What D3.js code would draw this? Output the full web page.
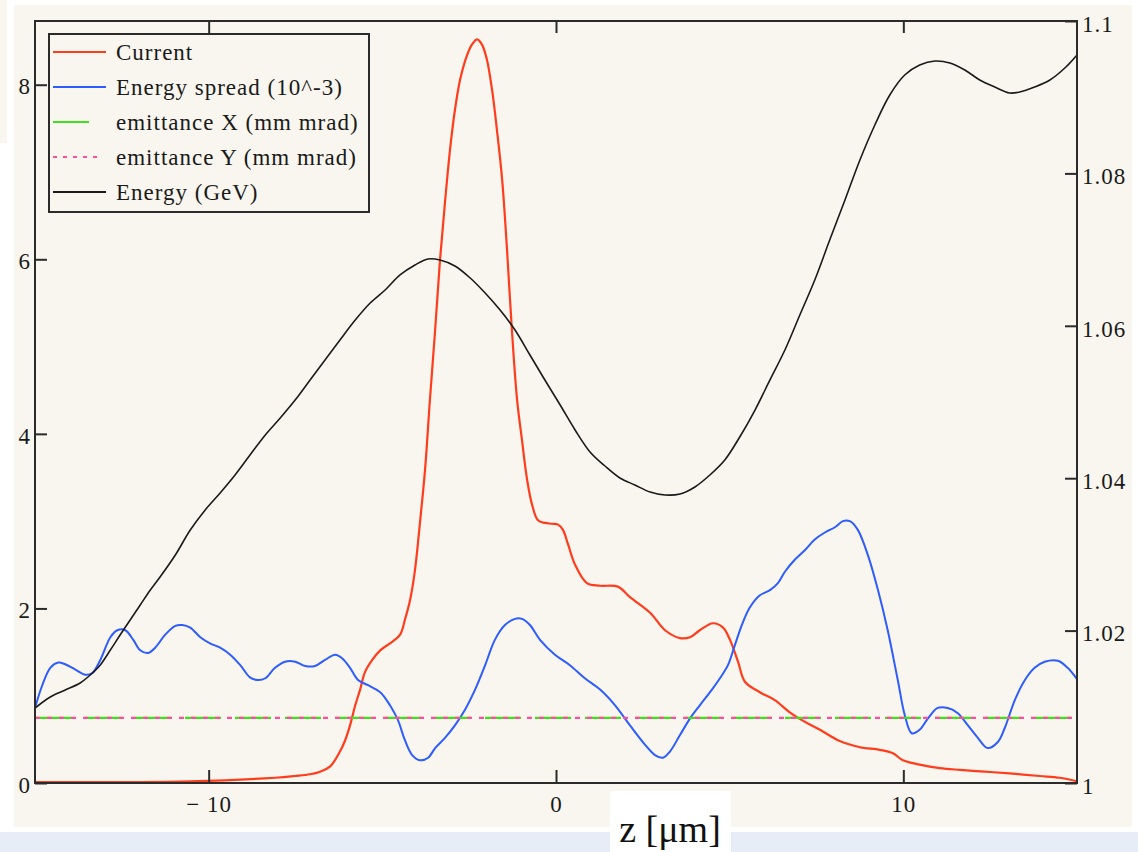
<!DOCTYPE html>
<html>
<head>
<meta charset="utf-8">
<style>
  body { margin: 0; background: #fff; }
  svg { font-family: "Liberation Serif", "DejaVu Serif", serif; }
</style>
</head>
<body>
<script src="https://d3js.org/d3.v7.min.js"></script>
<div id="chart"></div>
<script>
// z positions (um) and values
var currentZ = [-15.0, -10.53, -8.09, -7.51, -7.08, -6.79, -6.50, -6.22, -6.07, -5.93, -5.78, -5.64, -5.50, -5.29, -5.06, -4.78, -4.49, -4.35, -4.20, -4.06, -3.91, -3.77, -3.63, -3.48, -3.34, -3.19, -3.05, -2.91, -2.76, -2.56, -2.42, -2.27, -2.13, -1.99, -1.84, -1.70, -1.55, -1.41, -1.27, -1.12, -0.98, -0.83, -0.69, -0.52, -0.32, -0.12, 0.06, 0.20, 0.35, 0.55, 0.89, 1.27, 1.78, 2.13, 2.71, 3.14, 3.57, 3.86, 4.14, 4.52, 4.81, 5.01, 5.24, 5.44, 5.87, 6.30, 6.73, 7.17, 7.60, 8.17, 8.75, 9.32, 9.70, 9.99, 10.47, 11.05, 11.63, 12.35, 13.06, 13.93, 14.50, 15.0];
var current = [0.01, 0.02, 0.06, 0.08, 0.10, 0.13, 0.19, 0.36, 0.49, 0.66, 0.89, 1.07, 1.27, 1.41, 1.52, 1.60, 1.70, 1.87, 2.10, 2.44, 3.01, 3.59, 4.39, 5.19, 5.99, 6.68, 7.26, 7.71, 8.06, 8.34, 8.46, 8.52, 8.46, 8.29, 7.94, 7.48, 6.91, 6.11, 5.19, 4.39, 3.93, 3.47, 3.19, 3.01, 2.98, 2.97, 2.96, 2.90, 2.73, 2.50, 2.29, 2.26, 2.25, 2.13, 1.95, 1.75, 1.66, 1.67, 1.75, 1.83, 1.78, 1.64, 1.39, 1.16, 1.04, 0.95, 0.81, 0.70, 0.61, 0.48, 0.41, 0.38, 0.34, 0.26, 0.21, 0.17, 0.15, 0.13, 0.11, 0.08, 0.06, 0.02];

var spreadZ = [-15.0, -14.79, -14.56, -14.33, -14.13, -13.84, -13.55, -13.35, -13.12, -12.83, -12.63, -12.40, -12.17, -11.97, -11.74, -11.54, -11.25, -10.96, -10.76, -10.53, -10.24, -9.96, -9.67, -9.38, -9.09, -8.81, -8.58, -8.37, -8.09, -7.80, -7.51, -7.22, -6.94, -6.65, -6.36, -6.16, -5.93, -5.70, -5.41, -5.06, -4.78, -4.55, -4.35, -4.14, -3.91, -3.68, -3.48, -3.19, -2.91, -2.62, -2.33, -2.04, -1.76, -1.47, -1.18, -0.98, -0.75, -0.46, -0.03, 0.40, 0.83, 1.27, 1.70, 2.13, 2.56, 2.85, 3.08, 3.28, 3.57, 3.86, 4.14, 4.49, 4.72, 4.95, 5.15, 5.35, 5.58, 5.87, 6.16, 6.39, 6.59, 6.88, 7.17, 7.45, 7.74, 8.03, 8.26, 8.46, 8.69, 8.98, 9.27, 9.55, 9.84, 10.04, 10.24, 10.47, 10.71, 10.99, 11.28, 11.57, 11.86, 12.14, 12.43, 12.72, 12.92, 13.21, 13.50, 13.78, 14.07, 14.45, 14.73, 15.0];
var spread = [0.86, 1.12, 1.32, 1.38, 1.36, 1.30, 1.24, 1.26, 1.41, 1.67, 1.75, 1.75, 1.64, 1.52, 1.49, 1.55, 1.70, 1.80, 1.81, 1.78, 1.67, 1.60, 1.55, 1.47, 1.35, 1.21, 1.18, 1.20, 1.32, 1.39, 1.39, 1.34, 1.34, 1.41, 1.47, 1.43, 1.32, 1.18, 1.12, 1.04, 0.89, 0.72, 0.49, 0.32, 0.26, 0.29, 0.40, 0.52, 0.66, 0.84, 1.07, 1.35, 1.64, 1.81, 1.88, 1.88, 1.81, 1.64, 1.47, 1.35, 1.20, 1.07, 0.89, 0.66, 0.44, 0.32, 0.29, 0.36, 0.55, 0.74, 0.89, 1.07, 1.20, 1.35, 1.58, 1.81, 2.01, 2.15, 2.21, 2.29, 2.42, 2.56, 2.67, 2.79, 2.87, 2.93, 3.00, 3.00, 2.90, 2.61, 2.21, 1.75, 1.18, 0.78, 0.57, 0.61, 0.74, 0.86, 0.86, 0.80, 0.66, 0.52, 0.40, 0.47, 0.63, 0.95, 1.18, 1.32, 1.39, 1.40, 1.32, 1.19];

var emitZ = [-15, 15];
var emitX = [0.745, 0.745];
var emitY = [0.745, 0.745];

var energyZ = [-15.0, -14.56, -14.13, -13.70, -13.41, -13.12, -12.83, -12.55, -12.26, -11.97, -11.68, -11.40, -10.96, -10.53, -10.10, -9.67, -9.24, -8.81, -8.37, -7.94, -7.51, -7.08, -6.65, -6.22, -5.78, -5.35, -4.92, -4.49, -4.06, -3.68, -3.34, -2.91, -2.47, -2.04, -1.61, -1.18, -0.75, -0.32, 0.12, 0.55, 0.98, 1.41, 1.84, 2.27, 2.71, 3.14, 3.57, 4.00, 4.43, 4.86, 5.29, 5.73, 6.16, 6.59, 7.02, 7.45, 7.88, 8.32, 8.75, 9.18, 9.61, 10.04, 10.47, 10.91, 11.34, 11.77, 12.20, 12.63, 13.06, 13.35, 13.78, 14.22, 14.65, 15.0];
var energy = [1.00984, 1.01129, 1.01220, 1.01312, 1.01417, 1.01549, 1.01745, 1.01942, 1.02139, 1.02336, 1.02533, 1.02703, 1.02992, 1.03320, 1.03583, 1.03806, 1.04042, 1.04304, 1.04567, 1.04790, 1.05026, 1.05289, 1.05551, 1.05814, 1.06076, 1.06299, 1.06470, 1.06667, 1.06798, 1.06877, 1.06864, 1.06785, 1.06627, 1.06430, 1.06207, 1.05945, 1.05617, 1.05289, 1.04961, 1.04633, 1.04344, 1.04160, 1.04003, 1.03911, 1.03819, 1.03780, 1.03793, 1.03885, 1.04042, 1.04239, 1.04541, 1.04895, 1.05289, 1.05682, 1.06142, 1.06601, 1.07126, 1.07651, 1.08176, 1.08635, 1.09029, 1.09291, 1.09423, 1.09475, 1.09449, 1.09357, 1.09226, 1.09134, 1.09055, 1.09068, 1.09134, 1.09226, 1.09383, 1.09554];

var xTicks = [-10, 0, 10];
var leftTicks = [0, 2, 4, 6, 8];
var rightTicks = [1, 1.02, 1.04, 1.06, 1.08, 1.1];

var legendNames = ["Current", "Energy spread (10^-3)", "emittance X (mm mrad)", "emittance Y (mm mrad)", "Energy (GeV)"];

var width = 1138, height = 852;
var plot = {left: 35, top: 21, right: 1077, bottom: 783};

var svg = d3.select("#chart").append("svg")
    .attr("width", width)
    .attr("height", height);

// page background pieces
svg.append("rect").attr("x", 0).attr("y", 0).attr("width", 7).attr("height", 143).attr("fill", "#f9f6ef");
svg.append("rect").attr("x", 14).attr("y", 5).attr("width", 1118).attr("height", 822).attr("fill", "#f9f6ef");
svg.append("rect").attr("x", 0).attr("y", 832).attr("width", width).attr("height", 20).attr("fill", "#e6edf7");

var x = d3.scaleLinear().domain([-15, 15]).range([plot.left, plot.right]);
var yL = d3.scaleLinear().domain([0, 8.73]).range([plot.bottom, plot.top]);
var yR = d3.scaleLinear().domain([1, 1.1]).range([plot.bottom, plot.top]);

svg.append("clipPath").attr("id", "clip")
  .append("rect")
    .attr("x", plot.left).attr("y", plot.top)
    .attr("width", plot.right - plot.left).attr("height", plot.bottom - plot.top);

var g = svg.append("g").attr("clip-path", "url(#clip)");

function pairs(zs, vs) { return zs.map(function(z, i) { return [z, vs[i]]; }); }

var lineL = d3.line().x(function(d) { return x(d[0]); }).y(function(d) { return yL(d[1]); }).curve(d3.curveCatmullRom);
var lineR = d3.line().x(function(d) { return x(d[0]); }).y(function(d) { return yR(d[1]); }).curve(d3.curveCatmullRom);

g.append("path").datum(pairs(currentZ, current)).attr("d", lineL)
  .attr("fill", "none").attr("stroke", "#ff3c1c").attr("stroke-width", 2.2);
g.append("path").datum(pairs(spreadZ, spread)).attr("d", lineL)
  .attr("fill", "none").attr("stroke", "#2d5cff").attr("stroke-width", 2);
g.append("path").datum(pairs(emitZ, emitX)).attr("d", lineL)
  .attr("fill", "none").attr("stroke", "#3ee21a").attr("stroke-width", 2.2)
  .attr("stroke-dasharray", "36,14");
g.append("path").datum(pairs(emitZ, emitY)).attr("d", lineL)
  .attr("fill", "none").attr("stroke", "#ff4f9a").attr("stroke-width", 2.2)
  .attr("stroke-dasharray", "5,7");
g.append("path").datum(pairs(energyZ, energy)).attr("d", lineR)
  .attr("fill", "none").attr("stroke", "#1a1a1a").attr("stroke-width", 1.6);

// frame
svg.append("rect")
  .attr("x", plot.left).attr("y", plot.top)
  .attr("width", plot.right - plot.left).attr("height", plot.bottom - plot.top)
  .attr("fill", "none").attr("stroke", "#2b2b2b").attr("stroke-width", 2);

function styleAxis(sel) {
  sel.select(".domain").remove();
  sel.selectAll(".tick line").attr("stroke", "#2b2b2b").attr("stroke-width", 2);
  sel.selectAll(".tick text").attr("fill", "#1a1a1a").attr("font-size", "23px")
    .attr("letter-spacing", "1px")
    .attr("font-family", "'Liberation Serif', serif");
}

svg.append("g").attr("transform", "translate(0," + plot.bottom + ")")
  .call(d3.axisBottom(x).tickValues(xTicks).tickSize(-13).tickPadding(13)
    .tickFormat(function(d) { return d < 0 ? "\u2212 " + Math.abs(d) : d; }))
  .call(styleAxis);

svg.append("g").attr("transform", "translate(0," + plot.top + ")")
  .call(d3.axisTop(x).tickValues(xTicks).tickSize(-12).tickFormat(""))
  .call(styleAxis);

svg.append("g").attr("transform", "translate(" + plot.left + ",0)")
  .call(d3.axisLeft(yL).tickValues(leftTicks).tickSize(-12).tickPadding(4))
  .call(styleAxis)
  .selectAll(".tick text").attr("dy", "0.4em");

svg.append("g").attr("transform", "translate(" + plot.right + ",0)")
  .call(d3.axisRight(yR).tickValues(rightTicks).tickSize(-12).tickPadding(5)
    .tickFormat(function(d) { return String(+d.toFixed(2)); }))
  .call(styleAxis)
  .selectAll(".tick text").attr("dy", "0.45em");

// legend
var legend = svg.append("g");
legend.append("rect").attr("x", 49).attr("y", 34).attr("width", 320).attr("height", 178)
  .attr("fill", "#f9f6ef").attr("stroke", "#2b2b2b").attr("stroke-width", 2);

var legendStyle = [
  {color: "#ff3c1c", len: 53, dash: null},
  {color: "#2d5cff", len: 53, dash: null},
  {color: "#3ee21a", len: 36, dash: null},
  {color: "#ff4f9a", len: 44, dash: "4,6"},
  {color: "#1a1a1a", len: 53, dash: null}
];

legendNames.forEach(function(name, i) {
  var ly = 52 + i * 35;
  legend.append("line")
    .attr("x1", 53).attr("x2", 53 + legendStyle[i].len)
    .attr("y1", ly).attr("y2", ly)
    .attr("stroke", legendStyle[i].color).attr("stroke-width", 2)
    .attr("stroke-dasharray", legendStyle[i].dash);
  legend.append("text")
    .attr("x", 116).attr("y", ly + 8)
    .attr("font-size", "23px").attr("letter-spacing", "1px").attr("fill", "#1a1a1a")
    .text(name);
});

// axis title box
svg.append("rect").attr("x", 610).attr("y", 791).attr("width", 121).attr("height", 61).attr("fill", "#fff");
svg.append("text").attr("x", 670).attr("y", 842).attr("text-anchor", "middle")
  .attr("font-size", "38px").attr("fill", "#111")
  .text("z [\u03bcm]");
</script>
</body>
</html>
